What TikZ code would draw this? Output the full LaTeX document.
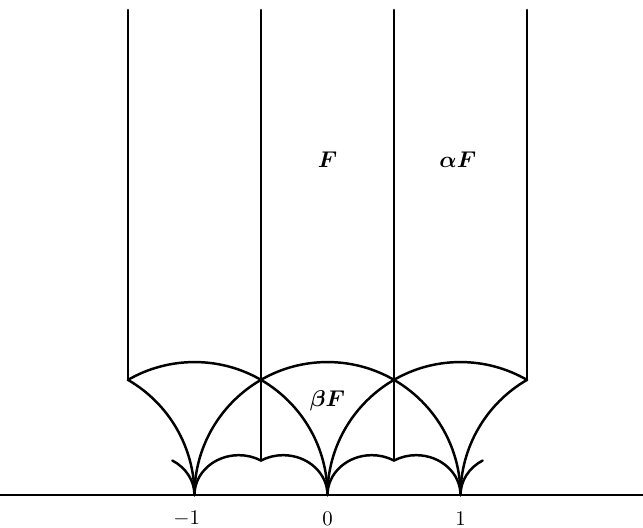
\documentclass[tikz,border=0pt]{standalone}
\usepackage{amsmath,amssymb}
\usetikzlibrary{positioning}

\begin{document}
\begin{tikzpicture}[
    x=2.46cm, y=2.46cm,
    curve/.style={line width=1.3pt, line cap=round},
    region/.style={inner sep=0pt, font=\fontsize{11.5}{13}\selectfont\boldmath},
    tick/.style={inner sep=0pt, font=\fontsize{11}{13}\selectfont}
]
\useasboundingbox (-2.462,-0.241) rectangle (2.372,3.722);

\coordinate (m1) at (-1,0);
\coordinate (o) at (0,0);
\coordinate (p1) at (1,0);
\coordinate (left) at (-2.462,0);
\coordinate (right) at (2.372,0);

% real axis
\draw[curve] (left) -- (right);

% vertical lines
\draw[curve] (-1.5,3.647) -- (-1.5,{sqrt(3)/2});
\draw[curve] (-0.5,3.647) -- (-0.5,0.26);
\draw[curve] (0.5,3.647) -- (0.5,0.26);
\draw[curve] (1.5,3.647) -- (1.5,{sqrt(3)/2});

% unit circles
\draw[curve] (m1) arc[start angle=0, end angle=60, radius=1];
\draw[curve] (o) arc[start angle=0, end angle=120, radius=1];
\draw[curve] (p1) arc[start angle=0, end angle=180, radius=1];
\draw[curve] (o) arc[start angle=180, end angle=60, radius=1];
\draw[curve] (p1) arc[start angle=180, end angle=120, radius=1];

% small arcs
\draw[curve] (m1) arc[start angle=0, end angle=60, x radius=1/3, y radius=0.3];
\draw[curve] (m1) arc[start angle=180, end angle=60, x radius=1/3, y radius=0.3];
\draw[curve] (o) arc[start angle=0, end angle=120, x radius=1/3, y radius=0.3];
\draw[curve] (o) arc[start angle=180, end angle=60, x radius=1/3, y radius=0.3];
\draw[curve] (p1) arc[start angle=0, end angle=120, x radius=1/3, y radius=0.3];
\draw[curve] (p1) arc[start angle=180, end angle=120, x radius=1/3, y radius=0.3];

% labels
\node[region] (F) at (0,2.52) {$F$};
\node[region] (aF) at (0.98,2.52) {$\alpha F$};
\node[region] (bF) at (0,0.71) {$\beta F$};

\node[tick, anchor=east] (lm1) at (-0.955,-0.175) {$-1$};
\node[tick] (lo) at (0,-0.175) {$0$};
\node[tick] (lp1) at (1,-0.175) {$1$};
\end{tikzpicture}
\end{document}
